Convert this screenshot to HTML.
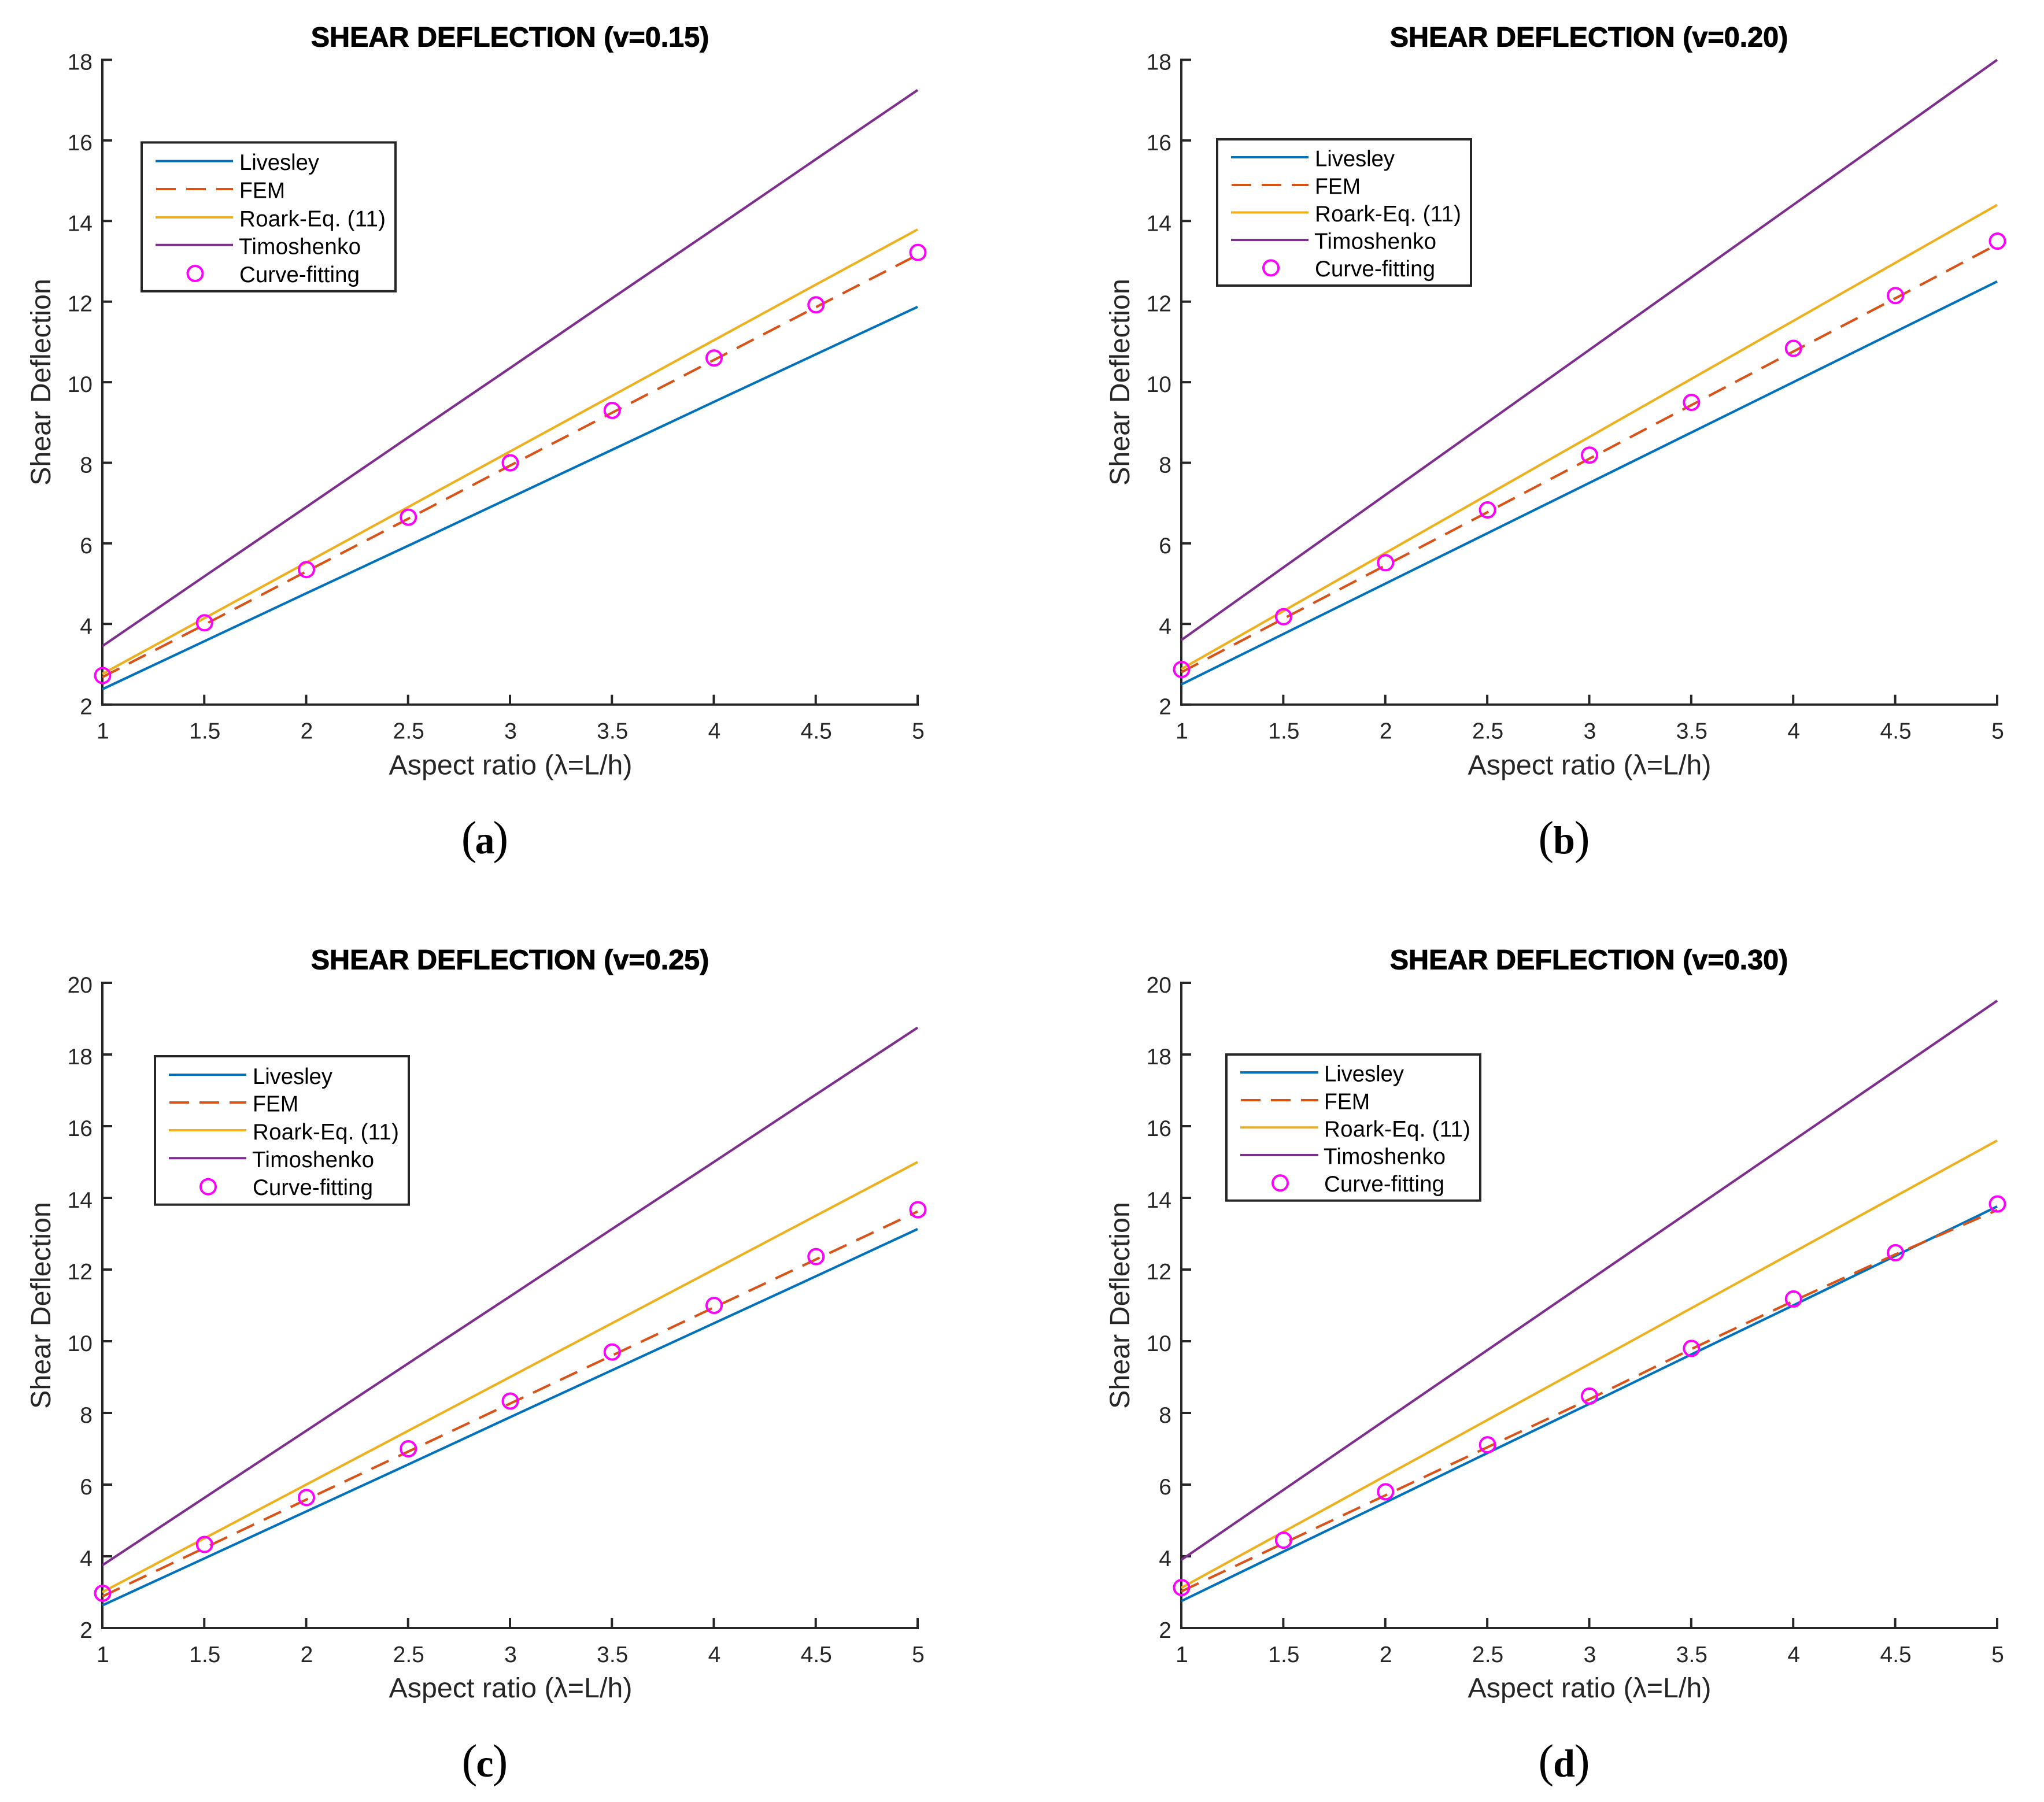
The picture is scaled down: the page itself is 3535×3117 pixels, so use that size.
<!DOCTYPE html>
<html lang="en">
<head>
<meta charset="utf-8">
<title>Shear Deflection Charts</title>
<style>
html,body{margin:0;padding:0;background:#fff;}
svg{display:block;}
text{font-family:"Liberation Sans",Arial,sans-serif;}
.title{font-size:48.5px;font-weight:bold;fill:#000;stroke:#000;stroke-width:1;text-anchor:middle;}
.axlabel{font-size:48.4px;fill:#262626;text-anchor:middle;}
.tick{font-size:39px;fill:#262626;}
.legtext{font-size:38.5px;fill:#000;}
.legbox{fill:#fff;stroke:#262626;stroke-width:4;}
.cap{font-family:"Liberation Serif",serif;fill:#000;text-anchor:middle;font-size:80px;}
.cap tspan{font-family:"Liberation Serif",serif;}
.capb{font-size:68px;font-weight:bold;}
</style>
</head>
<body>
<svg id="fig" xmlns="http://www.w3.org/2000/svg" width="3535" height="3117" viewBox="0 0 3535 3117">
<rect x="0" y="0" width="3535" height="3117" fill="#fff"/>

<!-- Panel A -->
<g>
<g id="plot-a"></g>
<text class="title" x="882" y="80.5">SHEAR DEFLECTION (v=0.15)</text>
<text class="axlabel" x="883" y="1339.3">Aspect ratio (λ=L/h)</text>
<text class="axlabel" transform="translate(87 661) rotate(-90)" x="0" y="0">Shear Deflection</text>
<text class="cap" x="838.5" y="1476">(<tspan class="capb" dx="-3">a</tspan><tspan dx="-3">)</tspan></text>
<g>
<rect class="legbox" x="245" y="246.4" width="439" height="257.4"/>
<line x1="269" x2="403" y1="278.6" y2="278.6" stroke="#0072BD" stroke-width="4"/>
<line x1="270" x2="403" y1="327" y2="327" stroke="#D95319" stroke-width="4" stroke-dasharray="34 18"/>
<line x1="269" x2="403" y1="376" y2="376" stroke="#EDB120" stroke-width="4"/>
<line x1="269" x2="403" y1="423.7" y2="423.7" stroke="#7E2F8E" stroke-width="4"/>
<circle cx="337.5" cy="473" r="13" fill="none" stroke="#FF00FF" stroke-width="4"/>
<text class="legtext" x="414" y="294" textLength="138">Livesley</text>
<text class="legtext" x="414" y="342.5" textLength="79" lengthAdjust="spacingAndGlyphs">FEM</text>
<text class="legtext" x="414" y="391.5" textLength="253">Roark-Eq. (11)</text>
<text class="legtext" x="413" y="439.5" textLength="211">Timoshenko</text>
<text class="legtext" x="414" y="488" textLength="208">Curve-fitting</text>
</g>
</g>

<!-- Panel B -->
<g>
<g id="plot-b"></g>
<text class="title" x="2748" y="80.5">SHEAR DEFLECTION (v=0.20)</text>
<text class="axlabel" x="2749" y="1339.3">Aspect ratio (λ=L/h)</text>
<text class="axlabel" transform="translate(1953 661) rotate(-90)" x="0" y="0">Shear Deflection</text>
<text class="cap" x="2705" y="1476">(<tspan class="capb" dx="-1">b</tspan><tspan dx="-1">)</tspan></text>
<g>
<rect class="legbox" x="2105" y="241" width="439" height="253"/>
<line x1="2129" x2="2263" y1="272" y2="272" stroke="#0072BD" stroke-width="4"/>
<line x1="2130" x2="2263" y1="320" y2="320" stroke="#D95319" stroke-width="4" stroke-dasharray="34 18"/>
<line x1="2129" x2="2263" y1="367.5" y2="367.5" stroke="#EDB120" stroke-width="4"/>
<line x1="2129" x2="2263" y1="415" y2="415" stroke="#7E2F8E" stroke-width="4"/>
<circle cx="2198" cy="463.4" r="13" fill="none" stroke="#FF00FF" stroke-width="4"/>
<text class="legtext" x="2274" y="287.5" textLength="138">Livesley</text>
<text class="legtext" x="2274" y="335.5" textLength="79" lengthAdjust="spacingAndGlyphs">FEM</text>
<text class="legtext" x="2274" y="383" textLength="253">Roark-Eq. (11)</text>
<text class="legtext" x="2273" y="430.5" textLength="211">Timoshenko</text>
<text class="legtext" x="2274" y="478" textLength="208">Curve-fitting</text>
</g>
</g>

<!-- Panel C -->
<g>
<g id="plot-c"></g>
<text class="title" x="882" y="1676.5">SHEAR DEFLECTION (v=0.25)</text>
<text class="axlabel" x="883" y="2936">Aspect ratio (λ=L/h)</text>
<text class="axlabel" transform="translate(87 2258) rotate(-90)" x="0" y="0">Shear Deflection</text>
<text class="cap" x="838.5" y="3073">(<tspan class="capb" dx="-2">c</tspan><tspan dx="-2">)</tspan></text>
<g>
<rect class="legbox" x="268" y="1827" width="439" height="256.7"/>
<line x1="292" x2="426" y1="1859" y2="1859" stroke="#0072BD" stroke-width="4"/>
<line x1="293" x2="426" y1="1907" y2="1907" stroke="#D95319" stroke-width="4" stroke-dasharray="34 18"/>
<line x1="292" x2="426" y1="1955" y2="1955" stroke="#EDB120" stroke-width="4"/>
<line x1="292" x2="426" y1="2003.3" y2="2003.3" stroke="#7E2F8E" stroke-width="4"/>
<circle cx="360" cy="2052.7" r="13" fill="none" stroke="#FF00FF" stroke-width="4"/>
<text class="legtext" x="437" y="1875" textLength="138">Livesley</text>
<text class="legtext" x="437" y="1922.7" textLength="79" lengthAdjust="spacingAndGlyphs">FEM</text>
<text class="legtext" x="437" y="1971" textLength="253">Roark-Eq. (11)</text>
<text class="legtext" x="436" y="2019" textLength="211">Timoshenko</text>
<text class="legtext" x="437" y="2067" textLength="208">Curve-fitting</text>
</g>
</g>

<!-- Panel D -->
<g>
<g id="plot-d"></g>
<text class="title" x="2748" y="1676.5">SHEAR DEFLECTION (v=0.30)</text>
<text class="axlabel" x="2749" y="2936">Aspect ratio (λ=L/h)</text>
<text class="axlabel" transform="translate(1953 2258) rotate(-90)" x="0" y="0">Shear Deflection</text>
<text class="cap" x="2705" y="3073">(<tspan class="capb" dx="-1">d</tspan><tspan dx="-1">)</tspan></text>
<g>
<rect class="legbox" x="2121" y="1824" width="439" height="252.7"/>
<line x1="2145" x2="2280" y1="1855" y2="1855" stroke="#0072BD" stroke-width="4"/>
<line x1="2146" x2="2280" y1="1903" y2="1903" stroke="#D95319" stroke-width="4" stroke-dasharray="34 18"/>
<line x1="2145" x2="2280" y1="1950.3" y2="1950.3" stroke="#EDB120" stroke-width="4"/>
<line x1="2145" x2="2280" y1="1998" y2="1998" stroke="#7E2F8E" stroke-width="4"/>
<circle cx="2214" cy="2046.3" r="13" fill="none" stroke="#FF00FF" stroke-width="4"/>
<text class="legtext" x="2290" y="1870.7" textLength="138">Livesley</text>
<text class="legtext" x="2290" y="1918.5" textLength="79" lengthAdjust="spacingAndGlyphs">FEM</text>
<text class="legtext" x="2290" y="1966" textLength="253">Roark-Eq. (11)</text>
<text class="legtext" x="2289" y="2013.5" textLength="211">Timoshenko</text>
<text class="legtext" x="2290" y="2061" textLength="208">Curve-fitting</text>
</g>
</g>
</svg>

<script>
const aspectRatios = [1, 1.5, 2, 2.5, 3, 3.5, 4, 4.5, 5];
const xTickLabels = ['1', '1.5', '2', '2.5', '3', '3.5', '4', '4.5', '5'];
const yTicksTopRow = [2, 4, 6, 8, 10, 12, 14, 16, 18];
const yTicksBottomRow = [2, 4, 6, 8, 10, 12, 14, 16, 18, 20];

const livesleyA = [2.38, 3.57, 4.76, 5.94, 7.13, 8.32, 9.51, 10.69, 11.87];
const femA = [2.68, 3.98, 5.30, 6.61, 7.93, 9.24, 10.55, 11.86, 13.16];
const roarkA = [2.76, 4.14, 5.52, 6.90, 8.28, 9.66, 11.04, 12.42, 13.79];
const timoshenkoA = [3.45, 5.18, 6.90, 8.63, 10.35, 12.08, 13.80, 15.53, 17.25];
const curveFitA = [2.72, 4.03, 5.35, 6.65, 8.00, 9.30, 10.60, 11.92, 13.22];

const livesleyB = [2.50, 3.75, 5.00, 6.25, 7.50, 8.75, 10.00, 11.25, 12.50];
const femB = [2.80, 4.13, 5.45, 6.77, 8.10, 9.43, 10.76, 12.08, 13.42];
const roarkB = [2.88, 4.32, 5.76, 7.20, 8.64, 10.08, 11.52, 12.96, 14.40];
const timoshenkoB = [3.60, 5.40, 7.20, 9.00, 10.80, 12.60, 14.40, 16.20, 18.00];
const curveFitB = [2.87, 4.18, 5.52, 6.83, 8.19, 9.50, 10.84, 12.15, 13.50];

const livesleyC = [2.63, 3.94, 5.25, 6.56, 7.88, 9.19, 10.50, 11.81, 13.13];
const femC = [2.88, 4.23, 5.58, 6.92, 8.26, 9.60, 10.94, 12.28, 13.62];
const roarkC = [3.00, 4.50, 6.00, 7.50, 9.00, 10.50, 12.00, 13.50, 15.00];
const timoshenkoC = [3.75, 5.63, 7.50, 9.38, 11.25, 13.13, 15.00, 16.88, 18.75];
const curveFitC = [2.97, 4.33, 5.64, 7.00, 8.33, 9.70, 11.00, 12.36, 13.67];

const livesleyD = [2.75, 4.13, 5.50, 6.88, 8.25, 9.63, 11.00, 12.38, 13.76];
const femD = [3.02, 4.36, 5.70, 7.04, 8.38, 9.78, 11.12, 12.42, 13.66];
const roarkD = [3.12, 4.68, 6.24, 7.80, 9.36, 10.92, 12.48, 14.04, 15.60];
const timoshenkoD = [3.90, 5.85, 7.80, 9.75, 11.70, 13.65, 15.60, 17.55, 19.50];
const curveFitD = [3.13, 4.45, 5.80, 7.11, 8.47, 9.80, 11.18, 12.47, 13.83];

const NS = 'http://www.w3.org/2000/svg';
const INK = '#262626';

function svgEl(parent, tag, attrs) {
  const el = document.createElementNS(NS, tag);
  for (const k in attrs) el.setAttribute(k, attrs[k]);
  parent.appendChild(el);
  return el;
}

function drawLine(parent, values, xs, ys, color, dash, name) {
  const pts = values.map(function (v, i) { return xs(aspectRatios[i]).toFixed(2) + ',' + ys(v).toFixed(2); }).join(' ');
  const attrs = { points: pts, fill: 'none', stroke: color, 'stroke-width': 4.2, 'stroke-linejoin': 'round' };
  if (dash) attrs['stroke-dasharray'] = dash;
  const el = svgEl(parent, 'polyline', attrs);
  
  
}

function drawPanel(id, box, yTicks, livesley, fem, roark, timoshenko, curveFit) {
  const root = document.getElementById('plot-' + id);
  const xMin = aspectRatios[0];
  const xMax = aspectRatios[aspectRatios.length - 1];
  const yMin = yTicks[0];
  const yMax = yTicks[yTicks.length - 1];
  const xs = function (v) { return box.left + (v - xMin) / (xMax - xMin) * (box.right - box.left); };
  const ys = function (v) { return box.bottom - (v - yMin) / (yMax - yMin) * (box.bottom - box.top); };

  const axisG = svgEl(root, 'g', {});
  
  

  const yAxis = svgEl(axisG, 'line', { x1: box.left, x2: box.left, y1: box.top - 2, y2: box.bottom + 2, stroke: INK, 'stroke-width': 4 });
  
  

  const xAxis = svgEl(axisG, 'line', { x1: box.left - 2, x2: box.right + 2, y1: box.bottom, y2: box.bottom, stroke: INK, 'stroke-width': 4 });
  
  

  aspectRatios.forEach(function (v, i) {
    const px = xs(v);
    const tick = svgEl(axisG, 'line', { x1: px, x2: px, y1: box.bottom, y2: box.bottom - 17, stroke: INK, 'stroke-width': 4 });
    
    
    const label = svgEl(axisG, 'text', { x: px + 1, y: box.bottom + 59, 'text-anchor': 'middle', class: 'tick' });
    label.textContent = xTickLabels[i];
    
    
  });

  yTicks.forEach(function (v) {
    const py = ys(v);
    const tick = svgEl(axisG, 'line', { x1: box.left, x2: box.left + 17, y1: py, y2: py, stroke: INK, 'stroke-width': 4 });
    
    
    const label = svgEl(axisG, 'text', { x: box.left - 17, y: py + 17, 'text-anchor': 'end', class: 'tick' });
    label.textContent = String(v);
    
    
  });

  drawLine(root, livesley, xs, ys, '#0072BD', null, 'series-livesley-' + id);
  drawLine(root, fem, xs, ys, '#D95319', '33 18.5', 'series-fem-' + id);
  drawLine(root, roark, xs, ys, '#EDB120', null, 'series-roark-' + id);
  drawLine(root, timoshenko, xs, ys, '#7E2F8E', null, 'series-timoshenko-' + id);

  const markers = svgEl(root, 'g', {});
  
  
  curveFit.forEach(function (v, i) {
    const c = svgEl(markers, 'circle', { cx: xs(aspectRatios[i]) + 0.5, cy: ys(v), r: 13, fill: 'none', stroke: '#FF00FF', 'stroke-width': 4 });
    
    
  });
}

drawPanel('a', { left: 177, right: 1587, top: 103.5, bottom: 1218.7 }, yTicksTopRow, livesleyA, femA, roarkA, timoshenkoA, curveFitA);
drawPanel('b', { left: 2043, right: 3454, top: 103.5, bottom: 1218.7 }, yTicksTopRow, livesleyB, femB, roarkB, timoshenkoB, curveFitB);
drawPanel('c', { left: 177, right: 1587, top: 1700, bottom: 2816 }, yTicksBottomRow, livesleyC, femC, roarkC, timoshenkoC, curveFitC);
drawPanel('d', { left: 2043, right: 3454, top: 1700, bottom: 2816 }, yTicksBottomRow, livesleyD, femD, roarkD, timoshenkoD, curveFitD);
</script>
</body>
</html>
